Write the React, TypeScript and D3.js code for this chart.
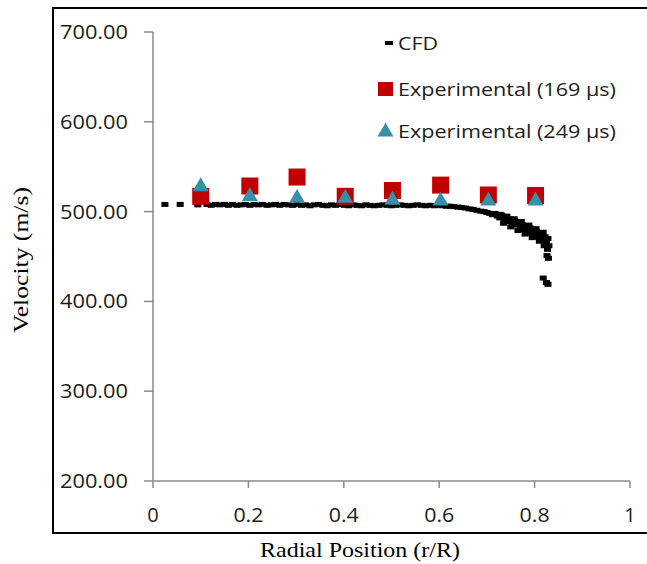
import React from "react";
import * as d3 from "d3";

// CFD radial positions and velocities
const cfdR = [
  0.025, 0.057, 0.094, 0.113, 0.122, 0.131, 0.14, 0.15,
  0.158, 0.167, 0.176, 0.185, 0.194, 0.203, 0.212, 0.221,
  0.23, 0.239, 0.248, 0.257, 0.266, 0.275, 0.284, 0.293,
  0.302, 0.311, 0.32, 0.329, 0.338, 0.347, 0.356, 0.365,
  0.374, 0.383, 0.392, 0.401, 0.41, 0.419, 0.428, 0.437,
  0.446, 0.455, 0.464, 0.473, 0.482, 0.491, 0.5, 0.509,
  0.518, 0.527, 0.536, 0.545, 0.554, 0.563, 0.572, 0.581,
  0.59, 0.599, 0.607, 0.615, 0.623, 0.631, 0.639, 0.647,
  0.655, 0.663, 0.671, 0.679, 0.687, 0.694, 0.7, 0.706,
  0.712, 0.717, 0.722, 0.727, 0.731, 0.736, 0.74, 0.745,
  0.749, 0.754, 0.758, 0.762, 0.766, 0.77, 0.774, 0.778,
  0.782, 0.786, 0.79, 0.794, 0.797, 0.801, 0.804, 0.807,
  0.81, 0.813, 0.816, 0.819, 0.822, 0.825, 0.828, 0.83,
  0.735, 0.75, 0.765, 0.78, 0.795, 0.81, 0.82, 0.827,
  0.728, 0.742, 0.757, 0.772, 0.788, 0.803, 0.818, 0.829,
  0.826, 0.818, 0.825, 0.828,
];
const cfdV = [
  508, 508, 507.5, 508, 507, 508, 507.5, 508,
  507, 508, 507, 507.5, 508, 507, 508, 507.5,
  508, 507, 507.5, 508, 507, 508, 507.5, 507,
  508, 507, 507.5, 506.5, 507.5, 508, 507, 506.5,
  507.5, 507, 508, 507, 506.5, 507.5, 507, 506.5,
  507.5, 507, 506.5, 507, 507.5, 507, 506.5, 507,
  507.5, 507, 506.5, 507, 507.5, 507, 506.5, 507,
  506.5, 507, 506.5, 506, 506, 505.5, 505, 504.5,
  504, 503, 502.5, 501.5, 500.5, 500, 499, 498,
  496.5, 498, 495, 493, 496, 491, 494, 489,
  492, 487, 490, 485, 488, 482, 486, 480,
  484, 478, 482, 476, 480, 474, 478, 472,
  476, 470, 474, 468, 472, 466, 470, 462,
  487, 483, 479, 475, 471, 467, 462, 458,
  497, 495, 492, 489, 485, 481, 477, 448,
  451, 426, 421, 419,
];

const expR = [0.1, 0.203, 0.302, 0.403, 0.502, 0.603, 0.703, 0.802];
const exp169 = [517, 528.5, 538.5, 517, 523.5, 529.5, 518.5, 518];
const exp249 = [529, 518, 516, 516, 514, 513, 513, 513];

const xTicks = [0, 0.2, 0.4, 0.6, 0.8, 1];
const xTickLabels = ["0", "0.2", "0.4", "0.6", "0.8", "1"];
const yTicks = [200, 300, 400, 500, 600, 700];
const yTickLabels = ["200.00", "300.00", "400.00", "500.00", "600.00", "700.00"];

const legendLabels = ["CFD", "Experimental (169 µs)", "Experimental (249 µs)"];

const RED = "#C00000";
const TEAL = "#3590A8";
const AXIS = "#8a8a8a";
const TXT = "#1c1c1c";
const SANS = "'Open Sans', 'Liberation Sans', sans-serif";
const SERIF = "'Liberation Serif', 'Times New Roman', serif";

export default function App() {
  const W = 647;
  const H = 564;
  const x = d3.scaleLinear().domain([0, 1]).range([153, 630]);
  const y = d3.scaleLinear().domain([200, 700]).range([481, 32]);
  const tri = d3.symbol().type(d3.symbolTriangle).size(110)() as string;

  return (
    <svg
      width={W}
      height={H}
      style={{ position: "absolute", left: 0, top: 0, background: "#fff" }}
    >
      <rect x={0} y={0} width={W} height={H} fill="#fff" />
      {/* outer frame */}
      <line x1={53} y1={8} x2={W} y2={8} stroke="#000" strokeWidth={2} />
      <line x1={53} y1={7} x2={53} y2={534} stroke="#000" strokeWidth={2} />
      <line x1={52} y1={533} x2={W} y2={533} stroke="#000" strokeWidth={2} />

      {/* y axis */}
      <line x1={x(0)} y1={y(700)} x2={x(0)} y2={y(200)} stroke={AXIS} strokeWidth={1.5} />
      {yTicks.map((t, i) => (
        <g key={"yt" + i}>
          <line x1={x(0) - 9} x2={x(0)} y1={y(t)} y2={y(t)} stroke={AXIS} strokeWidth={1.5} />
          <text
            x={128}
            y={y(t) + 7}
            textAnchor="end"
            fontFamily={SANS}
            fontSize={20}
            fill={TXT}
            textLength={68}
            lengthAdjust="spacingAndGlyphs"
          >
            {yTickLabels[i]}
          </text>
        </g>
      ))}

      {/* x axis */}
      <line x1={x(0)} y1={y(200)} x2={x(1)} y2={y(200)} stroke={AXIS} strokeWidth={1.5} />
      {xTicks.map((t, i) => (
        <g key={"xt" + i}>
          <line x1={x(t)} x2={x(t)} y1={y(200)} y2={y(200) + 7} stroke={AXIS} strokeWidth={1.5} />
          <text
            x={x(t)}
            y={522}
            textAnchor="middle"
            fontFamily={SANS}
            fontSize={20}
            fill={TXT}
            {...(xTickLabels[i].length > 1 ? { textLength: 30, lengthAdjust: "spacingAndGlyphs" } : {})}
          >
            {xTickLabels[i]}
          </text>
        </g>
      ))}

      {/* axis titles */}
      <text
        x={360}
        y={557}
        textAnchor="middle"
        fontFamily={SERIF}
        fontSize={22}
        fill="#000"
        textLength={200}
        lengthAdjust="spacingAndGlyphs"
      >
        Radial Position (r/R)
      </text>
      <text
        transform={`translate(28,260) rotate(-90)`}
        textAnchor="middle"
        fontFamily={SERIF}
        fontSize={22}
        fill="#000"
        textLength={146}
        lengthAdjust="spacingAndGlyphs"
      >
        Velocity (m/s)
      </text>

      {/* CFD */}
      {cfdR.map((r, i) => (
        <rect key={"c" + i} x={x(r) - 3.5} y={y(cfdV[i]) - 2.5} width={7} height={5} fill="#000" />
      ))}

      {/* Experimental 169 */}
      {expR.map((r, i) => (
        <rect key={"e1" + i} x={x(r) - 8.5} y={y(exp169[i]) - 8.5} width={17} height={17} fill={RED} />
      ))}
      {/* Experimental 249 */}
      {expR.map((r, i) => (
        <path key={"e2" + i} d={tri} transform={`translate(${x(r)},${y(exp249[i]) + 1})`} fill={TEAL} />
      ))}

      {/* legend */}
      <rect x={385} y={41} width={8} height={4} fill="#000" />
      <text x={398} y={50} fontFamily={SANS} fontSize={19} fill={TXT} textLength={40} lengthAdjust="spacingAndGlyphs">
        {legendLabels[0]}
      </text>
      <rect x={378} y={82} width={15} height={14} fill={RED} />
      <text x={398} y={96} fontFamily={SANS} fontSize={19} fill={TXT} textLength={218} lengthAdjust="spacingAndGlyphs">
        {legendLabels[1]}
      </text>
      <path d={tri} transform="translate(385.5,132)" fill={TEAL} />
      <text x={398} y={138} fontFamily={SANS} fontSize={19} fill={TXT} textLength={218} lengthAdjust="spacingAndGlyphs">
        {legendLabels[2]}
      </text>
    </svg>
  );
}
